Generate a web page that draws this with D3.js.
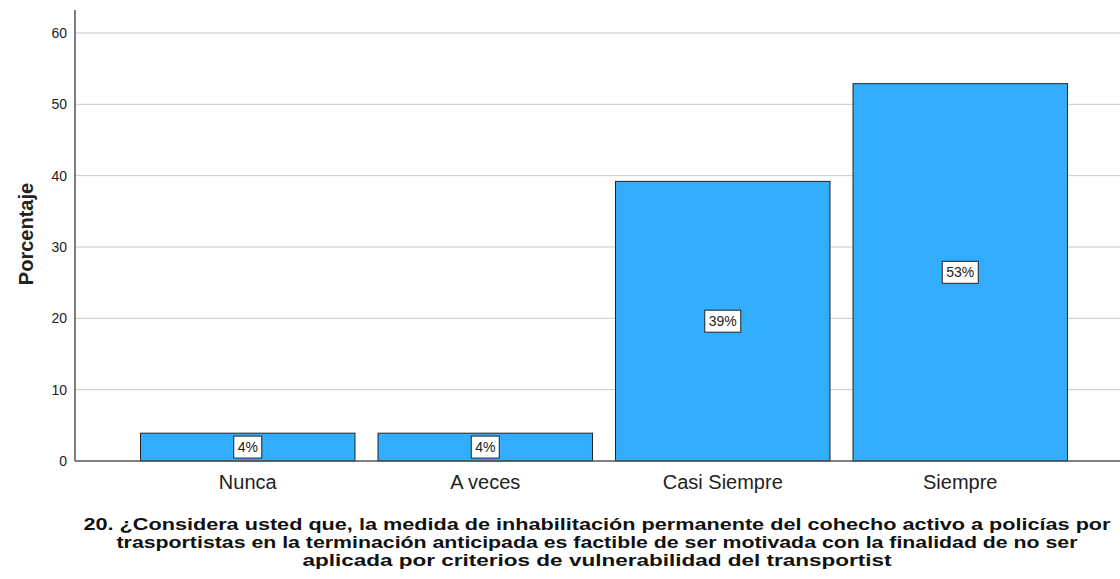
<!DOCTYPE html>
<html>
<head>
<meta charset="utf-8">
<script src="https://cdn.jsdelivr.net/npm/d3@7"></script>
<style>
  body { margin: 0; background: #fff; }
  text { font-family: "Liberation Sans", Arial, sans-serif; }
</style>
</head>
<body>
<div id="chart"></div>
<script>
// chart data
const categories = ["Nunca", "A veces", "Casi Siempre", "Siempre"]
const percentages = [3.9, 3.9, 39.2, 52.9]
const barLabels = ["4%", "4%", "39%", "53%"]
const yTicks = [0, 10, 20, 30, 40, 50, 60]
const titleLines = [
    "20. ¿Considera usted que, la medida de inhabilitación permanente del cohecho activo a policías por",
    "trasportistas en la terminación anticipada es factible de ser motivada con la finalidad de no ser",
    "aplicada por criterios de vulnerabilidad  del transportist"
]

const W = 1120, H = 579
const axisX = 75, axisBottom = 461, axisTop = 10

const svg = d3.select("#chart")
    .append("svg")
    .attr("width", W)
    .attr("height", H)

const x = d3.scaleBand()
    .domain(categories)
    .range([129, 1079])
    .paddingInner(0.097)
    .paddingOuter(0.0485)

const y = d3.scaleLinear()
    .domain([0, 60])
    .range([axisBottom, 33])

// gridlines
svg.selectAll(".grid")
    .data(yTicks.filter(d => d > 0))
    .enter()
    .append("line")
    .attr("x1", axisX)
    .attr("x2", W)
    .attr("y1", d => y(d))
    .attr("y2", d => y(d))
    .attr("stroke", "#c8c8c8")
    .attr("stroke-width", 1)

// y axis
const yAxis = svg.append("g")
    .attr("transform", "translate(" + axisX + ",0)")
    .call(d3.axisLeft(y).tickValues(yTicks).tickSize(0).tickPadding(8))
yAxis.select(".domain").remove()
yAxis.selectAll("text")
    .attr("font-size", 14)
    .attr("fill", "#222")
    .style("font-family", "Liberation Sans, Arial, sans-serif")

svg.append("line")
    .attr("x1", axisX).attr("x2", axisX)
    .attr("y1", axisTop).attr("y2", axisBottom)
    .attr("stroke", "#555").attr("stroke-width", 1.5)

// bars
const data = categories.map((c, i) => ({cat: c, val: percentages[i], label: barLabels[i]}))

svg.selectAll(".bar")
    .data(data)
    .enter()
    .append("rect")
    .attr("class", "bar")
    .attr("x", d => x(d.cat))
    .attr("y", d => y(d.val))
    .attr("width", x.bandwidth())
    .attr("height", d => axisBottom - y(d.val))
    .attr("fill", "#33aeff")
    .attr("stroke", "#222")
    .attr("stroke-width", 1)

// x axis line
svg.append("line")
    .attr("x1", axisX).attr("x2", W)
    .attr("y1", axisBottom).attr("y2", axisBottom)
    .attr("stroke", "#555").attr("stroke-width", 1.5)

// value labels in boxes
const labels = svg.selectAll(".lbl")
    .data(data)
    .enter()
    .append("g")
    .attr("transform", d => "translate(" + (x(d.cat) + x.bandwidth() / 2) + "," + ((y(d.val) + axisBottom) / 2) + ")")

labels.append("rect")
    .attr("x", d => d.label.length > 2 ? -18 : -14)
    .attr("y", -11)
    .attr("width", d => d.label.length > 2 ? 36 : 28)
    .attr("height", 22)
    .attr("fill", "#fff")
    .attr("stroke", "#222")
    .attr("stroke-width", 1)

labels.append("text")
    .attr("text-anchor", "middle")
    .attr("dy", "0.36em")
    .attr("font-size", 14)
    .attr("fill", "#222")
    .text(d => d.label)

// category labels
const xAxis = svg.append("g")
    .attr("transform", "translate(0," + axisBottom + ")")
    .call(d3.axisBottom(x).tickSize(0).tickPadding(14))
xAxis.select(".domain").remove()
xAxis.selectAll("text")
    .attr("font-size", 20)
    .attr("fill", "#222")
    .style("font-family", "Liberation Sans, Arial, sans-serif")

// y axis title
svg.append("text")
    .attr("transform", "translate(33,234) rotate(-90)")
    .attr("text-anchor", "middle")
    .attr("font-size", 20)
    .attr("font-weight", "bold")
    .attr("fill", "#222")
    .text("Porcentaje")

// x axis title
const lineW = [1027, 961, 589]
svg.selectAll(".title")
    .data(titleLines)
    .enter()
    .append("text")
    .attr("x", 597)
    .attr("y", (d, i) => 530 + i * 18)
    .attr("text-anchor", "middle")
    .attr("font-size", 16)
    .attr("font-weight", "bold")
    .attr("fill", "#111")
    .attr("textLength", (d, i) => lineW[i])
    .attr("lengthAdjust", "spacingAndGlyphs")
    .text(d => d)
</script>
</body>
</html>
